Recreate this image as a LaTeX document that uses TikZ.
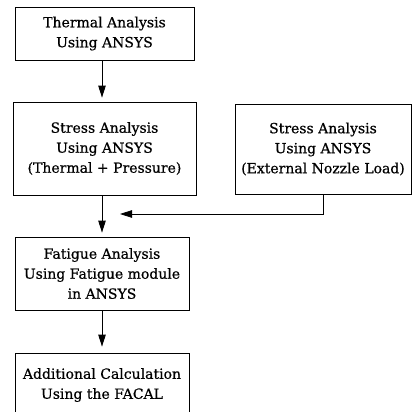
\documentclass[tikz,border=0pt]{standalone}
\usepackage{fontspec}
\setmainfont{DejaVu Serif}[FakeBold=0.6]
\usetikzlibrary{arrows.meta}
\begin{document}
\begin{tikzpicture}[x=1pt, y=-1pt, line join=miter, >={Triangle[length=12pt,width=7.5pt]},
    stagebox/.style={draw, line width=0.8pt, align=center, inner sep=0pt,
        font=\fontsize{14}{20}\selectfont}]
		\useasboundingbox (0,0) rectangle (412,412);
		% Ablauf der Berechnung
		\node[stagebox, minimum width=179pt, minimum height=53pt] (thermal) at (104.5,33.5) {Thermal Analysis\\Using ANSYS};
		\node[stagebox, minimum width=183pt, minimum height=93pt] (stress) at (104.5,148.5) {Stress Analysis\\Using ANSYS\\(Thermal + Pressure)};
		\node[stagebox, minimum width=176pt, minimum height=90pt] (nozzle) at (323,149) {Stress Analysis\\Using ANSYS\\(External Nozzle Load)};
		\node[stagebox, minimum width=174pt, minimum height=73pt] (fatigue) at (102,273.5) {Fatigue Analysis\\Using Fatigue module\\in ANSYS};
		\node[stagebox, minimum width=174pt, minimum height=64pt] (facal) at (102,385) {Additional Calculation\\Using the FACAL};
		\coordinate (merge) at (120,214);
		% Verbindungen
		\draw[->, line width=0.8pt, shorten >=4pt] (thermal.south -| fatigue) -- (stress.north -| fatigue);
		\draw[->, line width=0.8pt, shorten >=4pt] (stress.south -| fatigue) -- (fatigue.north);
		\draw[->, line width=0.8pt, shorten >=6pt] (fatigue.south) -- (facal.north);
		\draw[->, line width=0.8pt] (nozzle.south) |- (merge);
	\end{tikzpicture}
\end{document}
